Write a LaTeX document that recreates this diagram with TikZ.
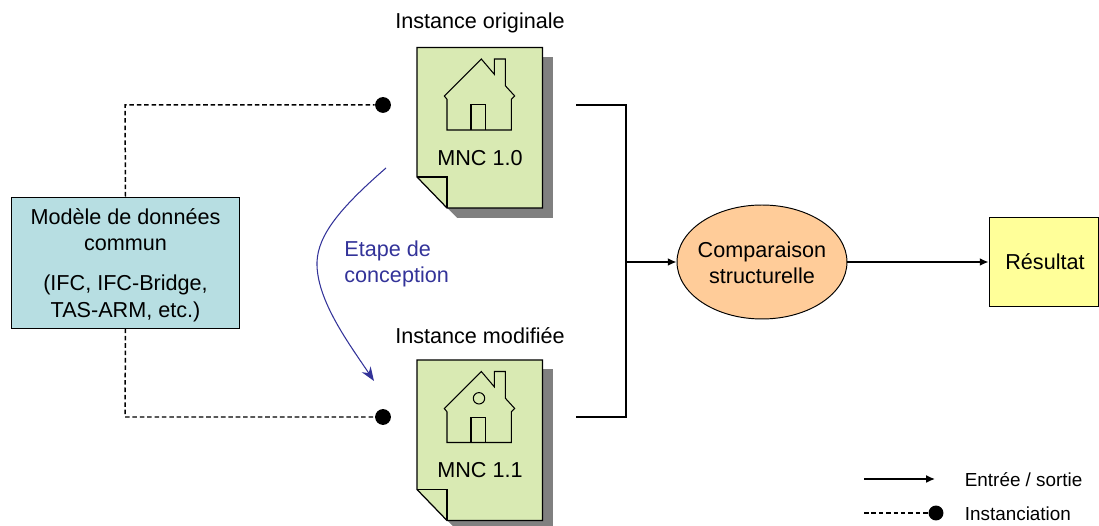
\documentclass[tikz,border=0pt]{standalone}
\usepackage{fontspec}
\setmainfont{Liberation Sans}
\usetikzlibrary{arrows.meta,shapes.geometric}
\definecolor{boxblue}{HTML}{B7DEE2}
\definecolor{docgreen}{HTML}{D9EAB3}
\definecolor{bubbleorange}{HTML}{FFCC99}
\definecolor{resultyellow}{HTML}{FFFF99}
\definecolor{noteblue}{HTML}{333399}
\tikzset{
  txt/.style={font=\fontsize{12.3}{15}\selectfont, align=center, inner sep=0pt},
  smalltxt/.style={font=\fontsize{10.75}{13}\selectfont, anchor=west, inner sep=0pt},
  flow/.style={line width=0.85pt, -{Latex[length=5pt, width=4.5pt]}},
  plain/.style={line width=0.85pt},
  inst/.style={line width=0.85pt, dash pattern=on 2.6pt off 1.6pt},
  dot/.style={circle, fill=black, inner sep=0pt, minimum size=9pt},
}
\newcommand{\drawdoc}{
  \fill[black!50] (427,57) rectangle (553,218);
  \fill[white] (417,177) -- (417,218) -- (457,218) -- cycle;
  \draw[line width=0.7pt, fill=docgreen] (417,47.5) -- (542.5,47.5) -- (542.5,208) -- (447,208) -- (417,177) -- cycle;
  \draw[line width=0.7pt] (417,177) -- (447,177) -- (447,208);
  \draw[line width=0.6pt] (481.3,59) -- (494.3,74.3) -- (494.3,59) -- (505.3,59) -- (505.3,85.7) -- (514.7,96) -- (511.3,99.3) -- (511.3,130) -- (447,130) -- (447,99.3) -- (444.3,96) -- cycle;
  \draw[line width=0.6pt] (471,130) -- (471,104.7) -- (485.3,104.7) -- (485.3,130);
}
\begin{document}
\begin{tikzpicture}[x=0.02cm, y=-0.02cm]
  \useasboundingbox (0,0) rectangle (1099,526);
  % documents
  \begin{scope}
    \drawdoc
  \end{scope}
  \begin{scope}[shift={(0,312.5)}]
    \drawdoc
    \draw[line width=0.6pt] (479,85.8) circle [radius=5.7];
  \end{scope}
  \node[txt] (docold) at (480,158) {MNC 1.0};
  \node[txt] (docnew) at (480,470.5) {MNC 1.1};
  \node[txt] (titleold) at (480,23) {Instance originale};
  \node[txt] (titlenew) at (480,336) {Instance modifiée};
  % boxes
  \node[draw, line width=0.55pt, fill=boxblue, minimum width=4.58cm, minimum height=2.62cm] (model) at (125.5,262.5) {};
  \node[txt, font=\fontsize{12.3}{15.2}\selectfont] (modeltxt) at (125.5,265) {Modèle de données\\commun\\[7.5pt](IFC, IFC-Bridge,\\TAS-ARM, etc.)};
  \node[draw, line width=0.55pt, ellipse, fill=bubbleorange, minimum width=3.4cm, minimum height=2.28cm] (compare) at (762,262) {};
  \node[txt] (comparetxt) at (762,263) {Comparaison\\structurelle};
  \node[draw, line width=0.55pt, fill=resultyellow, minimum width=2.18cm, minimum height=1.78cm] (result) at (1043.5,262) {};
  \node[txt] (resulttxt) at (1045,262) {Résultat};
  % instanciation
  \node[dot] (dotold) at (383,105) {};
  \node[dot] (dotnew) at (383,417) {};
  \draw[inst] (model.north) -- (125,105) -- (dotold);
  \draw[inst] (model.south) -- (125,417) -- (dotnew);
  % inputs and outputs
  \coordinate (outold) at (576,105);
  \coordinate (outnew) at (576,417);
  \coordinate (merge) at (626,262);
  \draw[plain] (outold) -- (626,105) -- (626,417) -- (outnew);
  \draw[flow] (merge) -- (compare);
  \draw[flow] (compare) -- (result);
  % design step
  \coordinate (stepstart) at (386,168);
  \coordinate (stepend) at (374,381);
  \draw[noteblue, line width=0.6pt, -{Stealth[length=8pt, width=6pt]}] (stepstart) .. controls (340,208) and (318,235) .. (317,262) .. controls (316,300) and (350,345) .. (stepend);
  \node[txt, align=left, anchor=west, text=noteblue] (steplabel) at (344,264) {Etape de\\conception};
  % legend
  \coordinate (legflow) at (864,479);
  \coordinate (leginst) at (864,513);
  \node[smalltxt] (legflowtxt) at (964.5,480) {Entrée / sortie};
  \node[smalltxt] (leginsttxt) at (964.5,514) {Instanciation};
  \coordinate (legflowend) at (935,479);
  \node[dot, minimum size=8.5pt] (legdot) at (936,513) {};
  \draw[flow] (legflow) -- (legflowend);
  \draw[inst] (leginst) -- (legdot);
\end{tikzpicture}
\end{document}
